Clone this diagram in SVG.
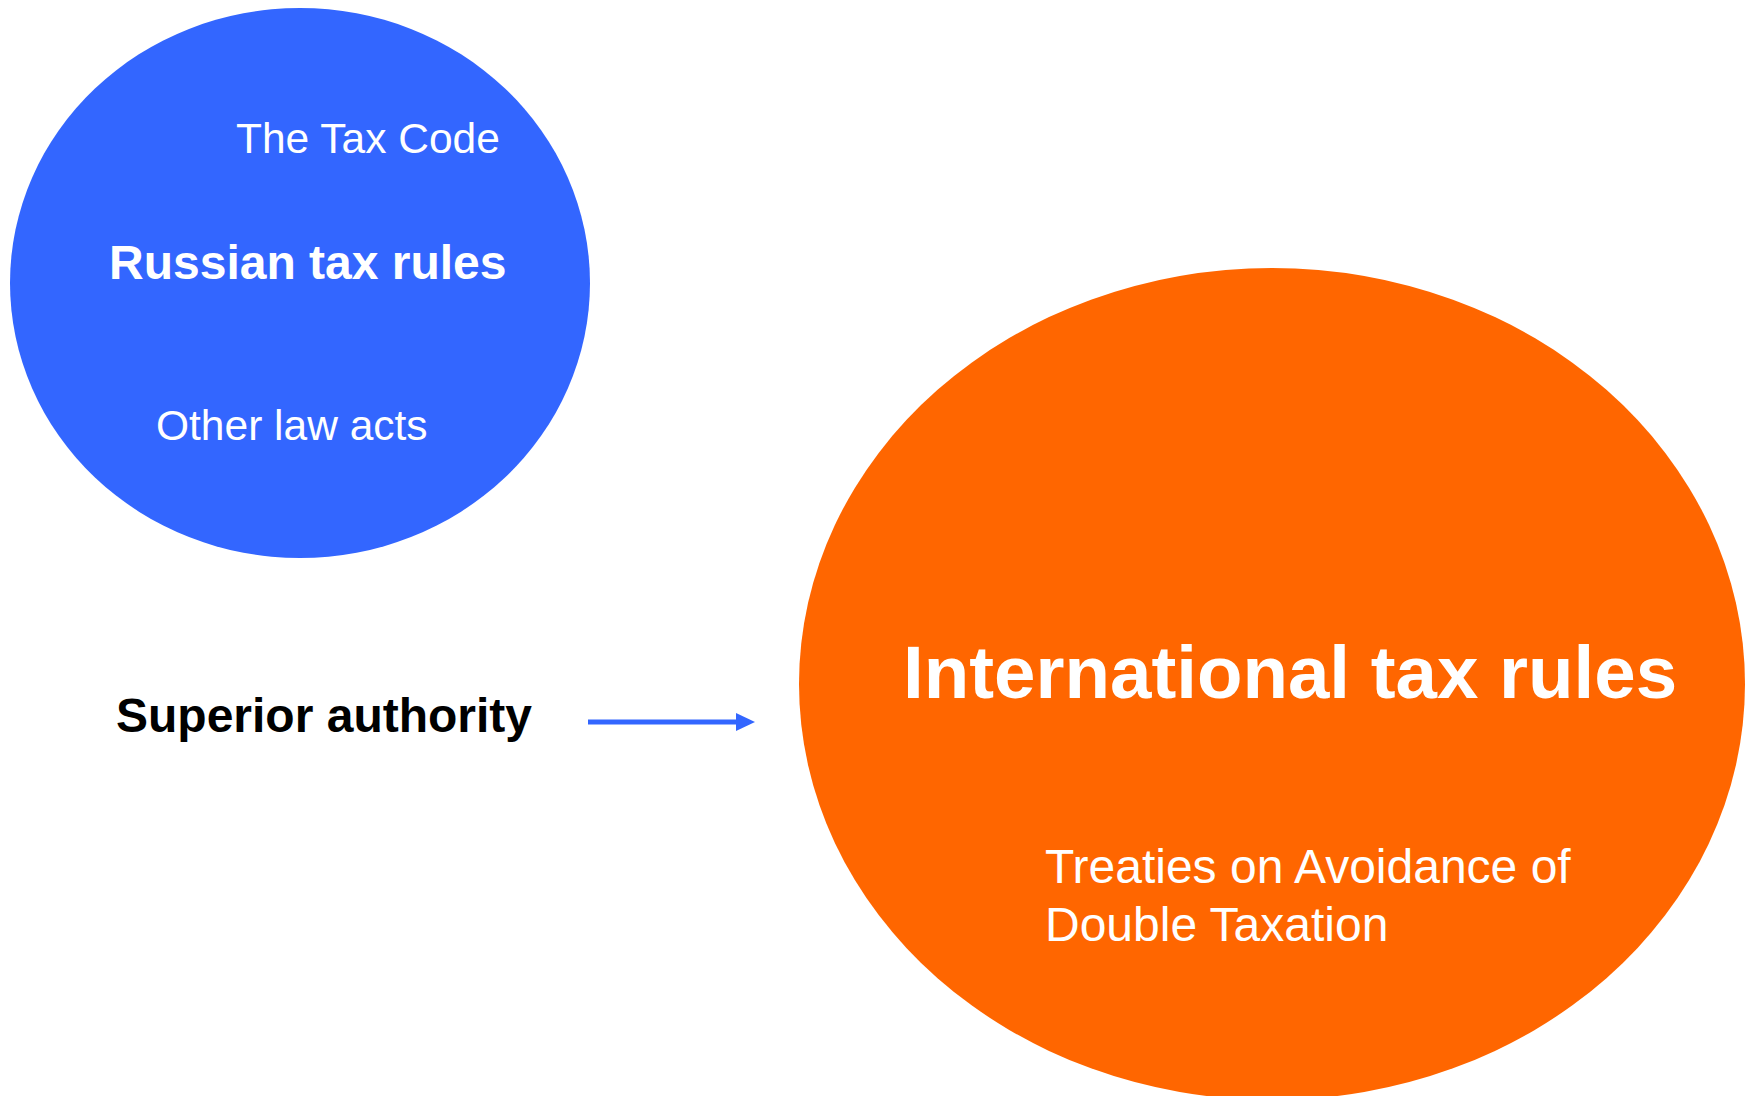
<svg xmlns="http://www.w3.org/2000/svg" width="1752" height="1096" viewBox="0 0 1752 1096">
<style>
text{font-family:"Liberation Sans",Arial,sans-serif;}
.w{fill:#ffffff;}
.b{font-weight:bold;}
</style>
<rect width="1752" height="1096" fill="#ffffff"/>
<g id="russian">
<ellipse cx="300" cy="283" rx="290" ry="275" fill="#3366FF"/>
<text class="w" x="236" y="153" font-size="42.5">The Tax Code</text>
<text class="w b" x="109" y="279" font-size="48">Russian tax rules</text>
<text class="w" x="156" y="440" font-size="42.5">Other law acts</text>
</g>
<g id="international">
<ellipse cx="1272" cy="684" rx="473" ry="416" fill="#FF6600"/>
<text class="w b" x="903" y="698" font-size="74.5">International tax rules</text>
<text class="w" x="1045" y="883" font-size="48">Treaties on Avoidance of</text>
<text class="w" x="1045" y="941" font-size="48">Double Taxation</text>
</g>
<g id="superior">
<text x="116" y="732" font-size="48" font-weight="bold" fill="#000000">Superior authority</text>
</g>
<g id="connectors">
<line x1="588" y1="722" x2="740" y2="722" stroke="#3366FF" stroke-width="5"/>
<path d="M736,713 L755,722 L736,731 z" fill="#3366FF"/>
</g>
</svg>
